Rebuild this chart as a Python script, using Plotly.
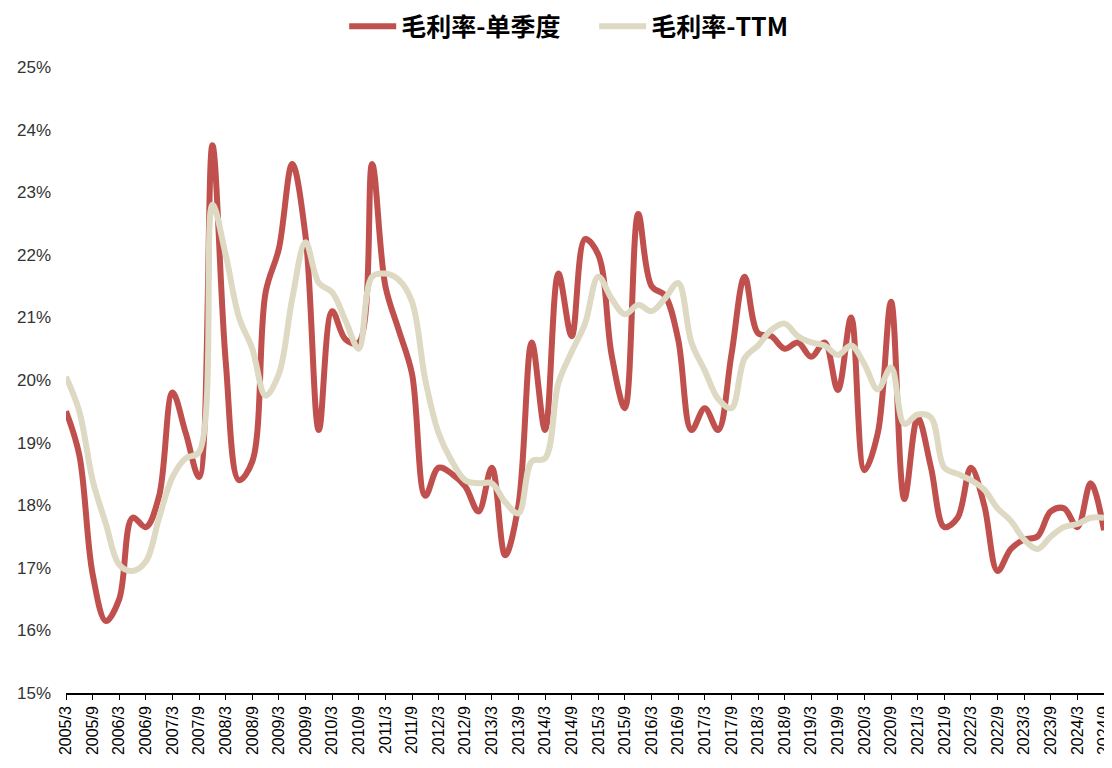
import plotly.graph_objects as go

# quarterly periods 2005/3 .. 2024/9
quarters = [f"{y}/{m}" for y in range(2005, 2025) for m in (3, 6, 9, 12)][:79]

# gross margin, single quarter (%)
gm_quarter = [
    19.5, 18.8, 16.9, 16.15, 16.5, 17.8, 17.65, 18.15, 19.8, 19.15,
    18.45, 23.75, 20.3, 18.4, 18.7, 21.4, 22.1, 23.45, 22.3, 19.2,
    21.1, 20.65, 20.6, 23.45, 21.5, 20.8, 20.1, 18.15, 18.6, 18.5,
    18.3, 17.9, 18.6, 17.2, 18.0, 20.6, 19.2, 21.7, 20.7, 22.25,
    22.0, 20.4, 19.55, 22.65, 21.5, 21.35, 20.65, 19.2, 19.55, 19.2,
    20.4, 21.65, 20.75, 20.7, 20.5, 20.6, 20.37, 20.6, 19.84, 21.0,
    18.56, 19.15, 21.25, 18.1, 19.4, 18.6, 17.65, 17.8, 18.6, 18.0,
    16.95, 17.3, 17.45, 17.5, 17.9, 17.95, 17.65, 18.35, 17.6,
]

# gross margin, TTM (%)
gm_ttm = [
    20.05, 19.5, 18.4, 17.7, 17.05, 16.95, 17.1, 17.8, 18.45, 18.75,
    18.85, 22.8, 22.0, 21.0, 20.5, 19.75, 20.1, 21.3, 22.2, 21.55,
    21.4, 20.95, 20.5, 21.65, 21.7, 21.6, 21.25, 20.0, 19.15, 18.7,
    18.4, 18.35, 18.35, 18.05, 17.87, 18.7, 18.75, 19.95, 20.45, 20.9,
    21.65, 21.3, 21.05, 21.2, 21.1, 21.3, 21.55, 20.6, 20.15, 19.7,
    19.55, 20.35, 20.55, 20.8, 20.9, 20.7, 20.6, 20.55, 20.4, 20.55,
    20.25, 19.85, 20.2, 19.3, 19.45, 19.4, 18.6, 18.5, 18.4, 18.25,
    17.95, 17.75, 17.45, 17.3, 17.5, 17.65, 17.7, 17.8, 17.8,
]

x_ticks = quarters[::2]
y_ticks = list(range(15, 26))
y_labels = [f"{v}%" for v in y_ticks]

fig = go.Figure()
fig.add_trace(go.Scatter(x=quarters, y=gm_quarter, name="毛利率-单季度",
                         mode="lines", line=dict(color="#C0504D", width=6,
                                                 shape="spline", smoothing=1)))
fig.add_trace(go.Scatter(x=quarters, y=gm_ttm, name="毛利率-TTM",
                         mode="lines", line=dict(color="#DDD9C3", width=6,
                                                 shape="spline", smoothing=1)))

# page body has an 8px margin, so the figure is a bit smaller than the window
fig.update_layout(
    width=1104, height=760,
    margin=dict(l=58, r=8, t=59, b=75, autoexpand=False),
    plot_bgcolor="white", paper_bgcolor="white",
    font=dict(family="Liberation Sans, Arial", size=17, color="#333333"),
    showlegend=True,
    legend=dict(orientation="h", x=0.268, xanchor="left", y=1.1015,
                yanchor="top", itemwidth=47, entrywidth=188,
                font=dict(family="Noto Sans CJK SC", size=25, color="#000000",
                          weight="bold")),
)
fig.update_xaxes(type="category", range=[0, 78], tickvals=x_ticks,
                 ticktext=x_ticks, tickangle=-90, showgrid=False,
                 automargin=False,
                 showline=True, linecolor="#000000", linewidth=1.5,
                 ticks="outside", ticklen=5, tickcolor="#000000",
                 tickfont=dict(size=16, color="#000000"))
fig.update_yaxes(range=[15, 25], tickvals=y_ticks, ticktext=y_labels,
                 showgrid=False, zeroline=False, showline=False,
                 automargin=False, ticklabelstandoff=14,
                 tickfont=dict(size=17, color="#333333"))

fig.write_html("out.html")
